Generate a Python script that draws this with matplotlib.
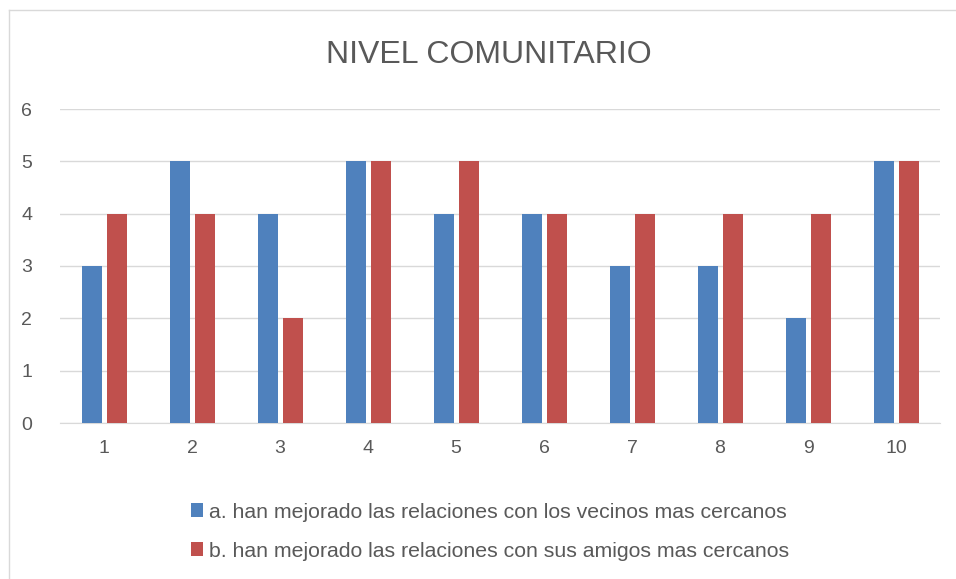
import numpy as np
import matplotlib.pyplot as plt
from matplotlib.lines import Line2D

categories = ["1", "2", "3", "4", "5", "6", "7", "8", "9", "10"]
vecinos = [3, 5, 4, 5, 4, 4, 3, 3, 2, 5]
amigos = [4, 4, 2, 5, 5, 4, 4, 4, 4, 5]
labels = ["a. han mejorado las relaciones con los vecinos mas cercanos",
          "b. han mejorado las relaciones con sus amigos mas cercanos"]
title = "NIVEL COMUNITARIO"

plt.rcParams['font.family'] = ['Liberation Sans', 'DejaVu Sans']
txt = '#595959'
W, H = 956, 579

fig = plt.figure(figsize=(W / 100, H / 100), dpi=100)
ax = fig.add_axes([60 / W, (H - 423) / H, 880 / W, 314 / H])

x = np.arange(len(categories))
bw = 0.23
ax.bar(x - 0.135, vecinos, bw, color='#4F81BD', label=labels[0], zorder=3)
ax.bar(x + 0.145, amigos, bw, color='#C0504D', label=labels[1], zorder=3)

ax.set_xlim(-0.5, len(categories) - 0.5)
ax.set_ylim(0, 6)
ax.set_yticks(range(7))
ax.set_xticks(x)
ax.set_xticklabels(categories)
ax.yaxis.grid(True, color='#D9D9D9', lw=1, zorder=0)
for s in ['top', 'right', 'left']:
    ax.spines[s].set_visible(False)
ax.spines['bottom'].set_color('#D9D9D9')
ax.tick_params(length=0, labelsize=14, colors=txt)
ax.tick_params(axis='x', pad=12)
ax.tick_params(axis='y', pad=20)

fig.text(489 / W, 1 - 55 / H, title, ha='center', va='center', fontsize=23, color=txt)

fig.legend(loc='upper left', bbox_to_anchor=(182 / W, 1 - 494 / H), frameon=False,
           fontsize=15.3, labelcolor=txt, handlelength=0.6, handleheight=0.6,
           handletextpad=0.25, labelspacing=0.95, borderaxespad=0)

# chart border (Excel frame)
fig.add_artist(Line2D([9 / W, 9 / W], [0, 1 - 10 / H], color='#D9D9D9', lw=1))
fig.add_artist(Line2D([9 / W, 1], [1 - 10 / H, 1 - 10 / H], color='#D9D9D9', lw=1))

fig.savefig('out.png', dpi=100)
